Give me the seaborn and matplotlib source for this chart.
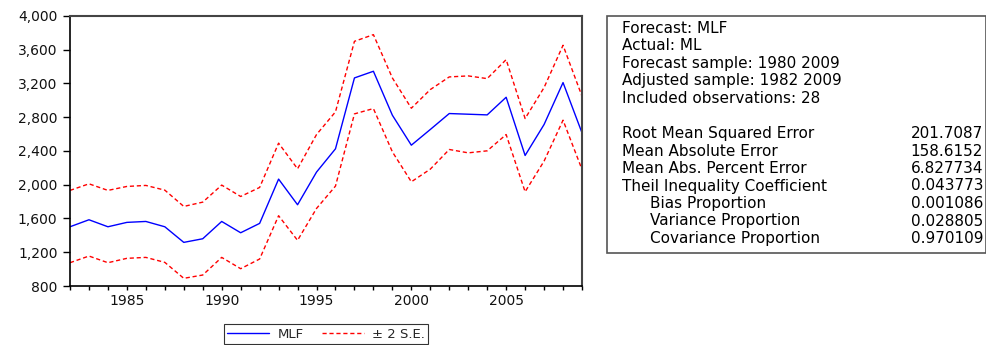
import numpy as np
import pandas as pd
import matplotlib
matplotlib.use("Agg")
import matplotlib.pyplot as plt
import seaborn as sns
from matplotlib.ticker import FuncFormatter, MultipleLocator
from matplotlib.lines import Line2D
from matplotlib.patches import Rectangle

years = list(range(1982, 2010))
mlf = [1502, 1585, 1502, 1554, 1565, 1502, 1317, 1360, 1565, 1431, 1542, 2067, 1763, 2150,
       2426, 3266, 3345, 2824, 2469, 2655, 2844, 2836, 2828, 3037, 2347, 2714, 3211, 2615]
upper = [1933, 2011, 1933, 1980, 1992, 1936, 1743, 1794, 1996, 1861, 1968, 2493, 2189, 2595,
         2864, 3700, 3779, 3266, 2907, 3128, 3278, 3290, 3258, 3483, 2785, 3152, 3653, 3049]
lower = [1076, 1155, 1076, 1128, 1139, 1080, 891, 930, 1139, 1005, 1120, 1633, 1341, 1719,
         1984, 2840, 2903, 2390, 2035, 2185, 2418, 2378, 2402, 2595, 1917, 2280, 2765, 2181]

legend_labels = ["MLF", "\u00b1 2 S.E."]
stats_header = ["Forecast: MLF", "Actual: ML", "Forecast sample: 1980 2009",
                "Adjusted sample: 1982 2009", "Included observations: 28"]
stats_names = ["Root Mean Squared Error", "Mean Absolute Error", "Mean Abs. Percent Error",
               "Theil Inequality Coefficient", "Bias Proportion", "Variance Proportion",
               "Covariance Proportion"]
stats_values = ["201.7087", "158.6152", "6.827734", "0.043773", "0.001086", "0.028805", "0.970109"]
stats_indent = [False, False, False, False, True, True, True]

sns.set_theme(style="white")
plt.rcParams['font.family'] = ['DejaVu Sans']

W, H = 986, 345
fig = plt.figure(figsize=(W / 100, H / 100), dpi=100)
ax = fig.add_axes([70 / W, 1 - 286 / H, 512 / W, 270 / H])

df = pd.DataFrame({"year": years, "MLF": mlf, "upper": upper, "lower": lower})
blue = "#0000ff"
red = "#ff0000"
dash = (0, (3, 2))
sns.lineplot(data=df, x="year", y="MLF", ax=ax, color=blue, lw=1.0)
sns.lineplot(data=df, x="year", y="upper", ax=ax, color=red, lw=1.0, linestyle=dash)
sns.lineplot(data=df, x="year", y="lower", ax=ax, color=red, lw=1.0, linestyle=dash)

ax.set_xlim(1982, 2009)
ax.set_ylim(800, 4000)
ax.yaxis.set_major_locator(MultipleLocator(400))
ax.yaxis.set_major_formatter(FuncFormatter(lambda v, p: f"{int(v):,}"))
ax.xaxis.set_major_locator(MultipleLocator(5))
ax.xaxis.set_minor_locator(MultipleLocator(1))
ax.set_xlabel("")
ax.set_ylabel("")
ax.tick_params(axis="both", which="both", direction="out", width=1, color="black",
               labelsize=10, labelcolor="#111111")
ax.tick_params(axis="x", which="both", bottom=True, length=3, pad=3)
ax.tick_params(axis="y", left=True, length=5, pad=4)
for s in ["left", "bottom"]:
    ax.spines[s].set_color("black")
    ax.spines[s].set_linewidth(1.2)
for s in ["top", "right"]:
    ax.spines[s].set_color("#444444")
    ax.spines[s].set_linewidth(1.5)

handles = [Line2D([], [], color=blue, lw=1.0),
           Line2D([], [], color=red, lw=1.0, linestyle=dash)]
leg = fig.legend(handles, legend_labels, loc="center", bbox_to_anchor=(326 / W, 1 - 334 / H),
                 ncol=2, frameon=True, fancybox=False, edgecolor="black", fontsize=9.5,
                 handlelength=3.2, handletextpad=0.6, columnspacing=1.4, borderpad=0.25)
leg.get_frame().set_linewidth(0.8)

# stats box
box = Rectangle((607 / W, 1 - 253 / H), (W - 607) / W, (253 - 16) / H, transform=fig.transFigure,
                fill=False, edgecolor="#555555", lw=1.2)
fig.patches.append(box)

fs = 11
base = 33
step = 17.5
for i, t in enumerate(stats_header):
    fig.text(621.7 / W, 1 - (base + i * step) / H, t, fontsize=fs, va="baseline", ha="left",
             color="black")
for j, (nm, val, ind) in enumerate(zip(stats_names, stats_values, stats_indent)):
    y = 1 - (base + (j + 6) * step) / H
    fig.text((650 if ind else 621.7) / W, y, nm, fontsize=fs, va="baseline", ha="left", color="black")
    fig.text(983 / W, y, val, fontsize=fs, va="baseline", ha="right", color="black")

fig.savefig("out.png", dpi=100)
